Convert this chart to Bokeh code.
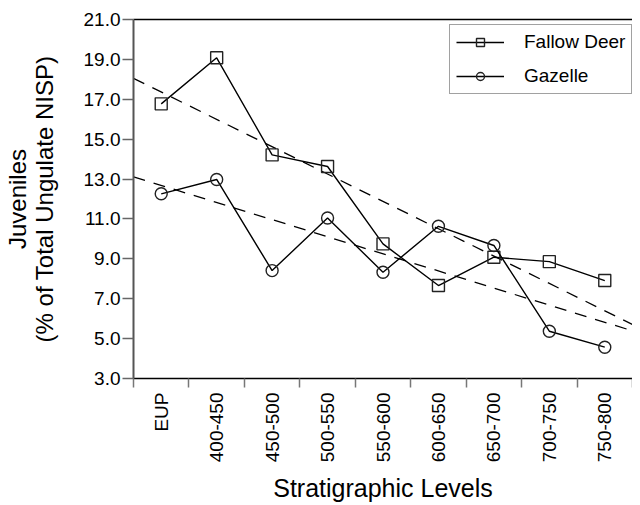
from bokeh.plotting import figure
from bokeh.models import (Range1d, FixedTicker, LinearAxis, Legend, LegendItem,
                          CustomJSTickFormatter)
from bokeh.embed import file_html
from bokeh.resources import INLINE

levels = ["EUP", "400-450", "450-500", "500-550", "550-600",
          "600-650", "650-700", "700-750", "750-800"]
fallow_deer = [16.77, 19.08, 14.21, 13.63, 9.75, 7.66, 9.08, 8.86, 7.91]
gazelle = [12.26, 12.98, 8.41, 11.05, 8.33, 10.63, 9.67, 5.37, 4.57]
# dashed trend lines, read at the left and right edges of the plot
trend_x_ends = [-0.5, 8.5]
deer_trend_ends = [18.05, 5.71]
gazelle_trend_ends = [13.11, 5.39]
y_ticks = [3, 5, 7, 9, 11, 13, 15, 17, 19, 21]

FONT = "Liberation Sans"
xs = list(range(len(levels)))

p = figure(width=632, height=505, output_backend="svg", toolbar_location=None,
           x_range=Range1d(-0.5, len(levels) - 0.5), y_range=Range1d(3, 21),
           min_border_left=122, min_border_top=19, min_border_right=0,
           min_border_bottom=127)
p.outline_line_color = None
p.grid.visible = False
p.background_fill_color = "white"
p.border_fill_color = "white"

# x axis: labels at centres, ticks at boundaries
xa = p.xaxis[0]
xa.ticker = FixedTicker(ticks=xs, minor_ticks=[i - 0.5 for i in range(len(levels) + 1)])
xa.formatter = CustomJSTickFormatter(args=dict(labels=levels),
                                     code="return labels[Math.round(tick)];")
xa.major_label_orientation = 1.5707963
xa.major_tick_line_color = None
xa.major_tick_in = 0
xa.major_tick_out = 9
xa.minor_tick_in = 0
xa.minor_tick_out = 9
xa.minor_tick_line_color = "#777777"
xa.minor_tick_line_width = 1.5
xa.axis_line_color = "black"
xa.axis_line_width = 1.5
xa.major_label_text_font = FONT
xa.major_label_text_font_size = "19px"
xa.major_label_text_color = "black"
xa.major_label_standoff = 5
xa.axis_label = "Stratigraphic Levels"
xa.axis_label_text_font = FONT
xa.axis_label_text_font_size = "25px"
xa.axis_label_text_font_style = "normal"
xa.axis_label_text_color = "black"
xa.axis_label_text_line_height = 0.5
xa.axis_label_standoff = 9

ya = p.yaxis[0]
ya.ticker = FixedTicker(ticks=y_ticks, minor_ticks=[])
ya.formatter = CustomJSTickFormatter(code="return tick.toFixed(1);")
ya.major_tick_in = 0
ya.major_tick_out = 11
ya.major_tick_line_color = "#666666"
ya.major_tick_line_width = 1.5
ya.axis_line_color = "#555555"
ya.axis_line_width = 2
ya.major_label_text_font = FONT
ya.major_label_text_font_size = "19px"
ya.major_label_text_color = "black"
ya.major_label_standoff = 2
ya.axis_label = "Juveniles\n(% of Total Ungulate NISP)"
ya.axis_label_text_font = FONT
ya.axis_label_text_font_size = "24px"
ya.axis_label_text_font_style = "normal"
ya.axis_label_text_color = "black"
ya.axis_label_text_line_height = 1.0
ya.axis_label_standoff = 23

top = LinearAxis(ticker=FixedTicker(ticks=[]), major_tick_line_color=None,
                 minor_tick_line_color=None, major_label_text_font_size="0px",
                 axis_line_color="black", axis_line_width=1.5)
p.add_layout(top, "above")

# trend lines
p.line(trend_x_ends, deer_trend_ends, line_color="black", line_width=1.3, line_dash="12 9")
p.line(trend_x_ends, gazelle_trend_ends, line_color="black", line_width=1.3, line_dash="12 9")

l1 = p.line(xs, fallow_deer, line_color="black", line_width=1.4)
s1 = p.scatter(xs, fallow_deer, marker="square", size=12, fill_color=None,
               line_color="#222222", line_width=1.4)
l2 = p.line(xs, gazelle, line_color="black", line_width=1.4)
s2 = p.scatter(xs, gazelle, marker="circle", size=12, fill_color=None,
               line_color="#222222", line_width=1.4)

legend = Legend(items=[LegendItem(label="Fallow Deer", renderers=[l1, s1]),
                       LegendItem(label="Gazelle", renderers=[l2, s2])],
                location=(316, 284))
legend.label_text_font = FONT
legend.label_text_font_size = "19px"
legend.label_text_color = "black"
legend.border_line_color = "#444444"
legend.border_line_width = 1.5
legend.background_fill_alpha = 1.0
legend.glyph_width = 48
legend.glyph_height = 20
legend.label_standoff = 20
legend.spacing = 12
legend.padding = 6
legend.margin = 0
p.add_layout(legend)

open("out.html", "w").write(file_html(p, INLINE))
